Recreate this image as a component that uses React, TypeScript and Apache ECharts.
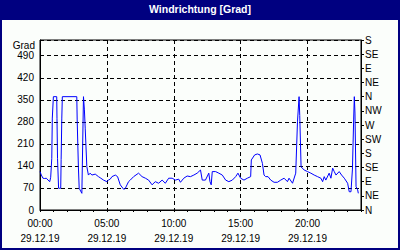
import React, { useEffect, useRef } from "react";
import * as echarts from "echarts";

const titleText = "Windrichtung [Grad]";
const yAxisName = "Grad";
const dateLabel = "29.12.19";
const compassLabels = ["N", "NE", "E", "SE", "S", "SW", "W", "NW", "N", "NE", "E", "SE", "S"];

// time in hours since 00:00
const hours = [
  0.0, 0.1, 0.22, 0.35, 0.47, 0.6, 0.73, 0.8, 0.88, 0.92, 1.0, 1.25, 1.27, 1.31, 1.39, 1.55, 1.58, 1.63, 1.67,
  2.75, 2.78, 2.87, 2.93, 3.04, 3.13, 3.25, 3.32, 3.38, 3.5, 3.62, 3.75, 3.88, 4.13, 4.37, 4.55, 4.75, 5.0,
  5.12, 5.25, 5.38, 5.63, 5.8, 6.0, 6.25, 6.37, 6.62, 6.75, 7.0, 7.37, 7.63, 7.88, 8.12, 8.38, 8.62, 8.87,
  9.13, 9.37, 9.62, 9.88, 10.13, 10.37, 10.5, 10.75, 11.0, 11.25, 11.5, 11.75, 12.0, 12.13, 12.37, 12.62,
  12.71, 12.8, 12.88, 13.13, 13.37, 13.63, 13.88, 14.12, 14.38, 14.63, 14.8, 15.0, 15.25, 15.5, 15.75, 15.8,
  16.05, 16.25, 16.45, 16.63, 16.75, 16.87, 17.05, 17.25, 17.5, 17.75, 18.0, 18.25, 18.5, 18.62, 18.88,
  19.12, 19.25, 19.37, 19.42, 19.52, 19.75, 20.0, 20.25, 20.5, 20.75, 21.0, 21.13, 21.25, 21.37, 21.62,
  21.75, 21.88, 22.0, 22.13, 22.37, 22.55, 22.75, 23.0, 23.12, 23.25, 23.36, 23.45, 23.5, 23.55, 23.63,
  23.75, 23.8,
];

// wind direction in degrees
const direction = [
  122, 111, 101, 100, 101, 95, 90, 104, 164, 292, 360, 360, 290, 164, 69, 69, 160, 292, 360,
  360, 286, 138, 69, 60, 53, 360, 318, 260, 138, 111, 117, 111, 114, 106, 101, 95, 90,
  95, 98, 106, 111, 106, 80, 66, 68, 90, 95, 106, 117, 106, 101, 95, 80, 90, 85,
  95, 85, 101, 101, 95, 98, 88, 101, 108, 106, 111, 117, 127, 95, 95, 117,
  90, 80, 122, 122, 117, 111, 95, 90, 95, 106, 117, 101, 95, 101, 106, 159,
  175, 178, 175, 148, 111, 106, 106, 95, 88, 88, 95, 101, 90, 101, 85,
  117, 280, 360, 300, 137, 127, 122, 117, 111, 106, 101, 90, 106, 95, 117,
  101, 133, 122, 111, 122, 111, 101, 85, 58, 58, 130, 286, 360, 308, 74,
  64, 53,
];

const FONT = "'Liberation Sans', Arial, sans-serif";

export default function App() {
  const ref = useRef<HTMLDivElement>(null);

  useEffect(() => {
    if (!ref.current) return;
    const chart = echarts.init(ref.current, null, { renderer: "svg", width: 400, height: 250 });
    const data = hours.map((h, i) => [h, direction[i]]);
    const pad = (n: number) => (n < 10 ? "0" + n : "" + n);
    const dash = [4, 3];

    chart.setOption({
      animation: false,
      backgroundColor: "#fbfefb",
      textStyle: { fontFamily: FONT },
      graphic: [
        { type: "rect", shape: { x: 0, y: 0, width: 400, height: 20 }, style: { fill: "#000080" }, z: 100 },
        {
          type: "rect",
          shape: { x: 1, y: 1, width: 398, height: 248 },
          style: { fill: "none", stroke: "#000080", lineWidth: 2 },
          z: 100,
        },
        {
          type: "text",
          x: 200,
          y: 9,
          style: {
            text: titleText,
            fill: "#ffffff",
            font: `bold 10.5px ${FONT}`,
            textAlign: "center",
            textVerticalAlign: "middle",
          },
          z: 101,
        },
        {
          type: "text",
          x: 35,
          y: 45,
          style: {
            text: yAxisName,
            fill: "#000",
            font: `10px ${FONT}`,
            textAlign: "right",
            textVerticalAlign: "middle",
          },
        },
      ],
      grid: {
        left: 40,
        right: 39,
        top: 40,
        bottom: 40,
        show: true,
        borderColor: "#000",
        borderWidth: 1,
        backgroundColor: "transparent",
      },
      xAxis: {
        type: "value",
        min: 0,
        max: 24,
        interval: 5,
        axisLine: { show: true, lineStyle: { color: "#000", width: 1 } },
        axisTick: { show: true, length: 2, lineStyle: { color: "#000" } },
        minorTick: { show: true, splitNumber: 5, length: 2, lineStyle: { color: "#000" } },
        splitLine: { show: true, lineStyle: { color: "#000", type: dash, width: 1 } },
        axisLabel: {
          showMaxLabel: false,
          margin: 6,
          color: "#000",
          fontSize: 10,
          fontFamily: FONT,
          lineHeight: 15,
          formatter: (v: number) => (v >= 24 ? "" : `${pad(v)}:00\n${dateLabel}`),
        },
      },
      yAxis: [
        {
          type: "value",
          min: 0,
          max: 540,
          interval: 70,
          position: "left",
          axisLine: { show: true, lineStyle: { color: "#000" } },
          axisTick: { show: false },
          splitLine: { show: true, lineStyle: { color: "#000", type: dash, width: 1 } },
          axisLabel: {
            showMaxLabel: false,
            margin: 6,
            color: "#000",
            fontSize: 10,
            fontFamily: FONT,
            formatter: (v: number) => (v >= 540 ? "" : String(v)),
          },
        },
        {
          type: "value",
          min: 0,
          max: 540,
          interval: 45,
          position: "right",
          axisLine: { show: true, lineStyle: { color: "#000" } },
          axisTick: { show: true, length: 3, lineStyle: { color: "#000" } },
          splitLine: { show: false },
          axisLabel: {
            margin: 4,
            color: "#000",
            fontSize: 10,
            fontFamily: FONT,
            formatter: (v: number) => compassLabels[Math.round(v / 45)] ?? "",
          },
        },
      ],
      series: [
        {
          type: "line",
          yAxisIndex: 0,
          data,
          showSymbol: false,
          symbol: "none",
          lineStyle: { color: "#0000ff", width: 1 },
          z: 5,
        },
      ],
    });

    return () => chart.dispose();
  }, []);

  return (
    <div
      ref={ref}
      style={{ position: "fixed", left: 0, top: 0, width: 400, height: 250 }}
    />
  );
}
